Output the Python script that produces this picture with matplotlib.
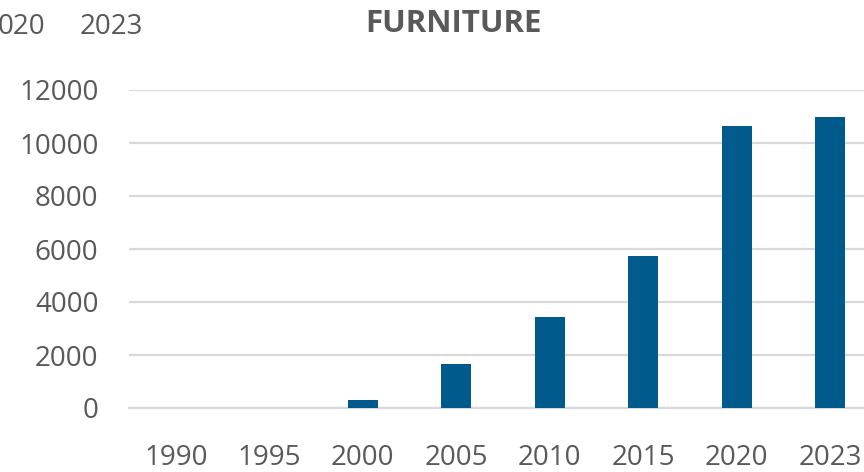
import matplotlib
matplotlib.use("Agg")
import matplotlib.pyplot as plt

categories = ["1990", "1995", "2000", "2005", "2010", "2015", "2020", "2023"]
values = [0, 0, 300, 1660, 3430, 5740, 10640, 10980]
yticks = [0, 2000, 4000, 6000, 8000, 10000, 12000]
title = "FURNITURE"
fragment_labels = ["020", "2023"]

plt.rcParams['font.family'] = ['Open Sans', 'DejaVu Sans']
gray = "#595959"

fig = plt.figure(figsize=(8.64, 4.72), dpi=100)
# axes extends past the right edge (cropped chart)
ax = fig.add_axes([129/864, 1 - 408/472, 748/864, 318/472])
x = list(range(len(categories)))
ax.bar(x, values, width=0.32, color="#005a8c", zorder=3)
ax.set_xlim(-0.5, len(categories) - 0.5)
ax.set_ylim(0, 12000)
ax.set_yticks(yticks)
ax.set_yticklabels([str(v) for v in yticks])
ax.set_xticks(x)
ax.set_xticklabels(categories)
ax.tick_params(axis='both', length=0, labelsize=20, colors=gray)
ax.tick_params(axis='y', pad=22)
ax.tick_params(axis='x', pad=26)
ax.yaxis.grid(True, color="#d9d9d9", linewidth=1.6, zorder=0)
ax.set_axisbelow(True)
for s in ["top", "right", "left"]:
    ax.spines[s].set_visible(False)
ax.spines["bottom"].set_color("#d9d9d9")
ax.spines["bottom"].set_linewidth(1.6)

fig.text(453/864, 1 - 24/472, title, ha="center", va="center",
         fontsize=22.5, fontweight="bold", color=gray)
fig.text(-2/864, 1 - 27/472, fragment_labels[0], ha="left", va="center",
         fontsize=20, color=gray)
fig.text(80/864, 1 - 27/472, fragment_labels[1], ha="left", va="center",
         fontsize=20, color=gray)

fig.savefig("out.png", dpi=100)
